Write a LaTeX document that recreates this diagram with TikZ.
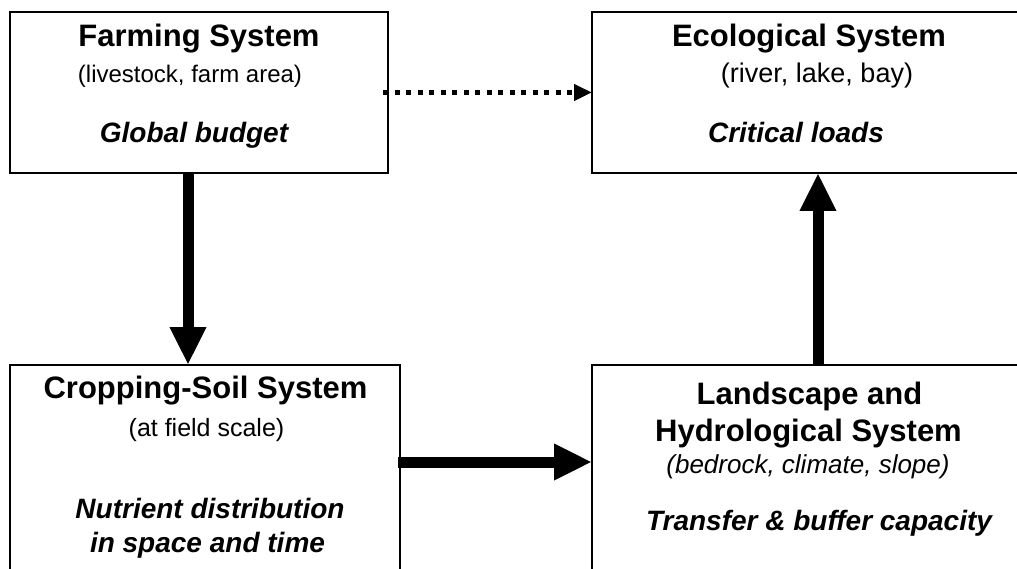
\documentclass[tikz,border=0pt]{standalone}
\usepackage{fontspec}
\setmainfont{Liberation Sans}
\usetikzlibrary{arrows.meta}
\tikzset{
  sysbox/.style={draw=black, line width=2.4pt, rectangle, outer sep=0pt, inner sep=0pt, fill=white},
  ttl/.style={anchor=base, inner sep=0pt, font=\fontsize{31}{31}\selectfont\bfseries},
  sub/.style={anchor=base, inner sep=0pt, font=\fontsize{24}{24}\selectfont},
  subit/.style={anchor=base, inner sep=0pt, font=\fontsize{26}{26}\selectfont\itshape},
  key/.style={anchor=base, inner sep=0pt, font=\fontsize{28}{28}\selectfont\bfseries\itshape},
  bigarrow/.style={line width=11pt, line cap=butt, -{Triangle[length=38pt,width=34pt]}},
  dotarrow/.style={line width=5pt, line cap=butt, dash pattern=on 5pt off 6.5pt, -{Triangle[length=18pt,width=16pt]}}
}
\begin{document}
\begin{tikzpicture}[x=1pt,y=1pt]
\useasboundingbox (0,0) rectangle (1017,-569);
\clip (0,0) rectangle (1017,-569);
% boxes
\node[sysbox, minimum width=378pt, minimum height=161pt] (farm) at (199,-92.5) {};
\node[sysbox, minimum width=438pt, minimum height=161pt] (eco) at (811,-92.5) {};
\node[sysbox, minimum width=390pt, minimum height=235pt] (crop) at (205,-482.5) {};
\node[sysbox, minimum width=438pt, minimum height=235pt] (land) at (811,-482.5) {};
% texts
\node[ttl] (farmt) at (199,-47) {Farming System};
\node[sub] (farms) at (190,-83) {(livestock, farm area)};
\node[key] (farmk) at (194,-143) {Global budget};
\node[ttl] (ecot) at (809,-47) {Ecological System};
\node[sub, font=\fontsize{27}{27}\selectfont] (ecos) at (817,-83) {(river, lake, bay)};
\node[key] (ecok) at (796,-143) {Critical loads};
\node[ttl] (cropt) at (205.5,-398) {Cropping-Soil System};
\node[sub, font=\fontsize{25}{25}\selectfont] (crops) at (206.5,-436) {(at field scale)};
\node[key] (cropk1) at (210,-518) {Nutrient distribution};
\node[key] (cropk2) at (207.5,-552) {in space and time};
\node[ttl] (landt1) at (809.5,-404) {Landscape and};
\node[ttl] (landt2) at (808.5,-441) {Hydrological System};
\node[subit] (lands) at (808,-473) {(bedrock, climate, slope)};
\node[key] (landk) at (819,-530) {Transfer \& buffer capacity};
% connectors
\draw[bigarrow] ([xshift=-11pt]farm.south) -- ([xshift=-17pt]crop.north);
\draw[bigarrow] ([yshift=20.5pt,xshift=-2pt]crop.east) -- ([yshift=20.5pt]land.west);
\draw[bigarrow] ([xshift=7pt]land.north) -- ([xshift=7pt]eco.south);
\draw[dotarrow] ([xshift=-5pt]farm.east) -- (eco.west);
\end{tikzpicture}
\end{document}
